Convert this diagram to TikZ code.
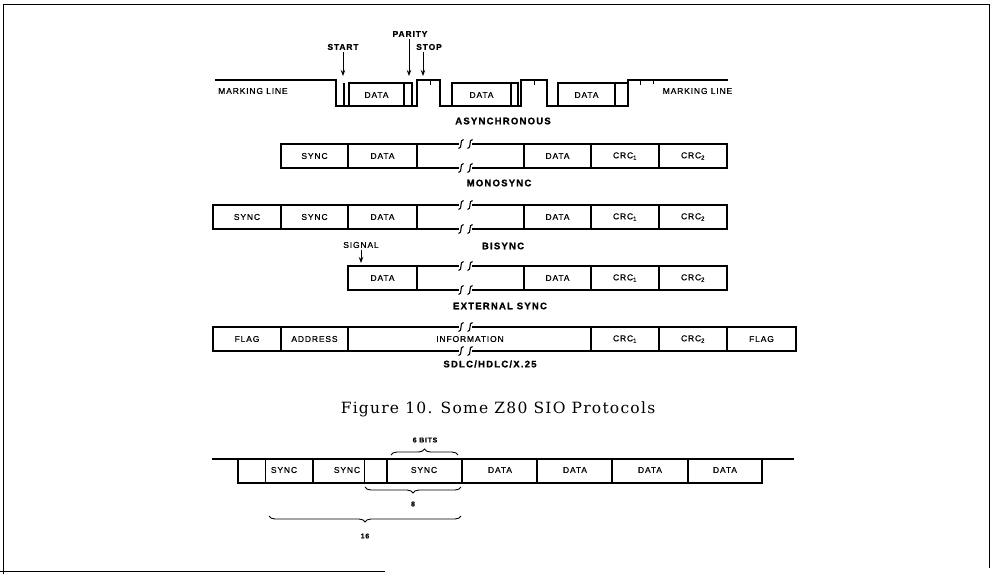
\documentclass[tikz,border=0pt]{standalone}
\usepackage{fontspec}
\setmainfont{Liberation Sans}
\newfontfamily\cellfnt[LetterSpace=10,FakeBold=0.6]{Liberation Sans}
\newfontfamily\protofnt[LetterSpace=13,BoldFeatures={FakeBold=1.2}]{Liberation Sans}
\newfontfamily\capfnt[LetterSpace=8]{DejaVu Serif}
\usetikzlibrary{arrows.meta,decorations.pathreplacing}
\newcommand\zbreak[2]{%
  \draw[line width=1.1pt] (#1+2.5,#2-4.5) .. controls (#1-2,#2-4.5) and (#1+2,#2+4.5) .. (#1-2.5,#2+4.5);}
\begin{document}
\begin{tikzpicture}[x=1pt,y=-1pt,
  wire/.style={line width=1.4pt},
  thinwire/.style={line width=0.7pt},
  cell/.style={font=\cellfnt\fontsize{8.5}{10}\selectfont, inner sep=0pt},
  tag/.style={font=\cellfnt\bfseries\fontsize{8.5}{10}\selectfont, inner sep=0pt},
  small/.style={font=\cellfnt\bfseries\fontsize{7}{8}\selectfont, inner sep=0pt},
  proto/.style={font=\protofnt\bfseries\fontsize{9.5}{11}\selectfont, inner sep=0pt},
  pointer/.style={line width=1pt,shorten <=2pt,-{Stealth[length=6pt,width=4.5pt]}},
  brc/.style={line width=0.9pt, decorate, decoration={brace,amplitude=6pt}},
]
\useasboundingbox (0,0) rectangle (993,574);
% frame
\draw[line width=1pt] (3,574) -- (3,4) -- (989,4) -- (989,568);
\draw[line width=1pt] (0,571) -- (385,571);

% ---------- asynchronous ----------
\draw[wire] (215,80) -- (336,80) -- (336,106) -- (417,106) -- (417,80) -- (440,80)
  -- (440,106) -- (521,106) -- (521,80) -- (547,80) -- (547,106) -- (628,106)
  -- (628,80) -- (728,80);
\draw[wire] (344,106) -- (344,83);
\draw[wire] (349,106) -- (349,83) -- (412,83) -- (412,106);
\draw[wire] (404,83) -- (404,106);
\draw[wire] (452,106) -- (452,83) -- (518,83) -- (518,106);
\draw[wire] (511,83) -- (511,106);
\draw[wire] (558,106) -- (558,83) -- (628,83);
\draw[wire] (615,83) -- (615,106);
\draw[thinwire] (430,80) -- (430,85) (534,80) -- (534,85) (640,80) -- (640,85) (653,80) -- (653,84);
\node[cell] (d1) at (376.5,95) {DATA};
\node[cell] (d2) at (481.5,95) {DATA};
\node[cell] (d3) at (586.5,95) {DATA};
\node[cell] (ml1) at (253,91) {MARKING LINE};
\node[cell] (ml2) at (697.5,91) {MARKING LINE};
\node[tag] (start) at (343,47) {START};
\node[tag] (parity) at (410,34) {PARITY};
\node[tag] (stop) at (429,47) {STOP};
\coordinate (startpt) at (343,76);
\coordinate (paritypt) at (409,76);
\coordinate (stoppt) at (423,76);
\draw[pointer] (start.south -| startpt) -- (startpt);
\draw[pointer] (parity.south -| paritypt) -- (paritypt);
\draw[pointer] (stop.south -| stoppt) -- (stoppt);
\node[proto] (async) at (503,121) {ASYNCHRONOUS};

% ---------- monosync ----------
\draw[wire] (459,144) -- (281,144) -- (281,168) -- (459,168);
\draw[wire] (472,144) -- (727,144) -- (727,168) -- (472,168);
\draw[wire] (348,144) -- (348,168) (417,144) -- (417,168) (524,144) -- (524,168)
  (591,144) -- (591,168) (659,144) -- (659,168);
\zbreak{461}{144}\zbreak{470}{144}\zbreak{461}{168}\zbreak{470}{168}
\node[cell] (m1) at (314.5,156) {SYNC};
\node[cell] (m2) at (382.5,156) {DATA};
\node[cell] (m3) at (557.5,156) {DATA};
\node[cell] (m4) at (625,156) {CRC\textsubscript{1}};
\node[cell] (m5) at (693,156) {CRC\textsubscript{2}};
\node[proto] (mono) at (499,183) {MONOSYNC};

% ---------- bisync ----------
\draw[wire] (459,205) -- (213,205) -- (213,229) -- (459,229);
\draw[wire] (472,205) -- (727,205) -- (727,229) -- (472,229);
\draw[wire] (281,205) -- (281,229) (348,205) -- (348,229) (417,205) -- (417,229)
  (524,205) -- (524,229) (591,205) -- (591,229) (659,205) -- (659,229);
\zbreak{461}{205}\zbreak{470}{205}\zbreak{461}{229}\zbreak{470}{229}
\node[cell] (b1) at (247,217) {SYNC};
\node[cell] (b2) at (314.5,217) {SYNC};
\node[cell] (b3) at (382.5,217) {DATA};
\node[cell] (b4) at (557.5,217) {DATA};
\node[cell] (b5) at (625,217) {CRC\textsubscript{1}};
\node[cell] (b6) at (693,217) {CRC\textsubscript{2}};
\node[proto] (bi) at (503,246) {BISYNC};

% ---------- external sync ----------
\node[cell] (signal) at (361,245) {SIGNAL};
\coordinate (signalpt) at (361,263);
\draw[pointer] (signal.south -| signalpt) -- (signalpt);
\draw[wire] (459,266) -- (348,266) -- (348,290) -- (459,290);
\draw[wire] (472,266) -- (727,266) -- (727,290) -- (472,290);
\draw[wire] (417,266) -- (417,290) (524,266) -- (524,290)
  (591,266) -- (591,290) (659,266) -- (659,290);
\zbreak{461}{266}\zbreak{470}{266}\zbreak{461}{290}\zbreak{470}{290}
\node[cell] (e1) at (382.5,278) {DATA};
\node[cell] (e2) at (557.5,278) {DATA};
\node[cell] (e3) at (625,278) {CRC\textsubscript{1}};
\node[cell] (e4) at (693,278) {CRC\textsubscript{2}};
\node[proto] (ext) at (500,306) {EXTERNAL SYNC};

% ---------- SDLC ----------
\draw[wire] (459,327) -- (213,327) -- (213,351) -- (459,351);
\draw[wire] (472,327) -- (796,327) -- (796,351) -- (472,351);
\draw[wire] (281,327) -- (281,351) (348,327) -- (348,351) (591,327) -- (591,351)
  (659,327) -- (659,351) (727,327) -- (727,351);
\zbreak{461}{327}\zbreak{470}{327}\zbreak{461}{351}\zbreak{470}{351}
\node[cell] (s1) at (247,339) {FLAG};
\node[cell] (s2) at (314.5,339) {ADDRESS};
\node[cell] (s3) at (470,339) {INFORMATION};
\node[cell] (s4) at (625,339) {CRC\textsubscript{1}};
\node[cell] (s5) at (693,339) {CRC\textsubscript{2}};
\node[cell] (s6) at (761.5,339) {FLAG};
\node[proto] (sdlc) at (490,364) {SDLC/HDLC/X.25};

% ---------- caption ----------
\node[font=\capfnt\fontsize{15.5}{18}\selectfont, inner sep=0pt] (caption) at (498,409)
  {Figure 10. Some Z80 SIO Protocols};

% ---------- bit-boundary diagram ----------
\draw[wire] (212,459) -- (794,459);
\draw[wire] (238,459) -- (238,483) -- (762,483) -- (762,459);
\draw[wire] (313,459) -- (313,483) (387,459) -- (387,483) (462,459) -- (462,483)
  (537,459) -- (537,483) (612,459) -- (612,483) (688,459) -- (688,483);
\draw[thinwire] (265,459) -- (265,483) (364,459) -- (364,483);
\node[cell] (q1) at (284,470) {SYNC};
\node[cell] (q2) at (347,470) {SYNC};
\node[cell] (q3) at (424,470) {SYNC};
\node[cell] (q4) at (500,470) {DATA};
\node[cell] (q5) at (575,470) {DATA};
\node[cell] (q6) at (650,470) {DATA};
\node[cell] (q7) at (725,470) {DATA};
\draw[brc] (391,455) -- (458,455);
\node[small] (six) at (425,440) {6 BITS};
\draw[brc] (461,487) -- (365,487);
\node[small] (eight) at (413,504) {8};
\draw[brc] (461,516) -- (269,516);
\node[small] (sixteen) at (365,536) {16};
\end{tikzpicture}
\end{document}
